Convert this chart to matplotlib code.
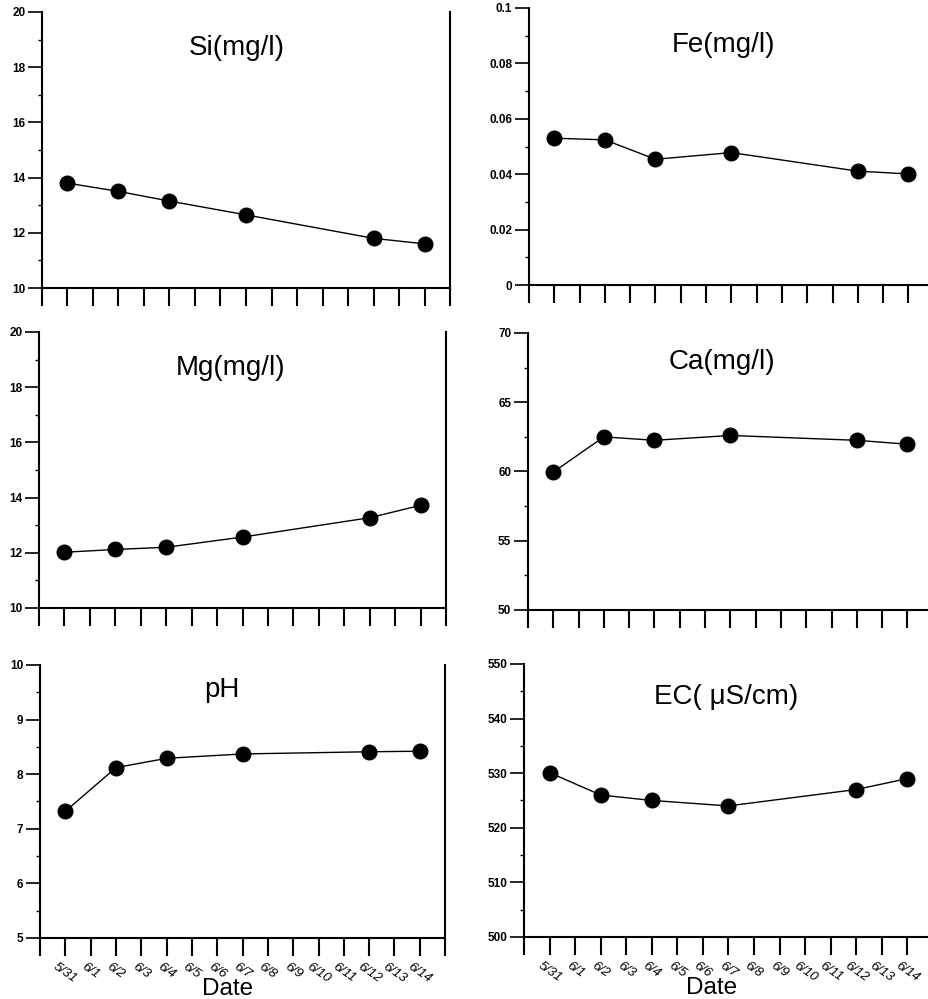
import matplotlib
matplotlib.use("Agg")
import matplotlib.pyplot as plt
from matplotlib.ticker import MultipleLocator, FixedLocator, FuncFormatter

plt.rcParams['font.family'] = ['Liberation Sans', 'DejaVu Sans']

# ---- data ----
date_labels = ["5/31", "6/1", "6/2", "6/3", "6/4", "6/5", "6/6", "6/7",
               "6/8", "6/9", "6/10", "6/11", "6/12", "6/13", "6/14"]
sample_days = ["5/31", "6/2", "6/4", "6/7", "6/12", "6/14"]

si = [13.8, 13.5, 13.15, 12.65, 11.8, 11.6]
fe = [0.053, 0.0524, 0.0454, 0.0478, 0.0411, 0.0401]
mg = [12.02, 12.12, 12.2, 12.57, 13.27, 13.72]
ca = [59.95, 62.5, 62.25, 62.6, 62.25, 61.97]
ph = [7.32, 8.12, 8.29, 8.37, 8.41, 8.42]
ec = [530.1, 526.0, 525.0, 524.0, 527.0, 529.0]

panels = [
    ("Si(mg/l)", si, (10, 20), 2, 1, [0.0452, 0.7117, 0.4392, 0.2763], False, False, (0.478, 0.87)),
    ("Fe(mg/l)", fe, (0, 0.1), 0.02, 0.01, [0.5694, 0.7147, 0.4316, 0.2773], True, False, (0.485, 0.865)),
    ("Mg(mg/l)", mg, (10, 20), 2, 1, [0.0420, 0.3914, 0.4381, 0.2763], False, False, (0.47, 0.87)),
    ("Ca(mg/l)", ca, (50, 70), 5, 2.5, [0.5683, 0.3894, 0.4316, 0.2773], True, False, (0.485, 0.895)),
    ("pH", ph, (5, 10), 1, 0.5, [0.0431, 0.0611, 0.4360, 0.2733], False, True, (0.45, 0.91)),
    ("EC( \u03bcS/cm)", ec, (500, 550), 10, 5, [0.5640, 0.0621, 0.4360, 0.2733], True, True, (0.5, 0.88)),
]

fig = plt.figure(figsize=(9.29, 9.99), dpi=100)

xpos = [date_labels.index(d) for d in sample_days]


def fe_fmt(v, p):
    if abs(v) < 1e-9:
        return "0"
    if abs(v - 0.1) < 1e-9:
        return "0.1"
    return f"{v:.2f}"


for title, vals, ylim, major, minor, rect, right_col, show_x, tpos in panels:
    ax = fig.add_axes(rect)
    ax.plot(xpos, vals, color='black', lw=1.0, marker='o', markersize=10.5,
            markerfacecolor='black', markeredgecolor='black', zorder=3,
            clip_on=False)
    ax.set_ylim(*ylim)
    if right_col:
        ax.set_xlim(-1, 14.85)
        ax.spines['right'].set_visible(False)
        ticks = list(range(-1, 15))
    else:
        ax.set_xlim(-1, 15)
        ax.spines['right'].set_linewidth(1.5)
        ticks = list(range(-1, 16))
    ax.xaxis.set_major_locator(FixedLocator(ticks))
    ax.spines['top'].set_visible(False)
    ax.spines['left'].set_linewidth(1.5)
    ax.spines['bottom'].set_linewidth(1.5)

    ax.yaxis.set_major_locator(MultipleLocator(major))
    ax.yaxis.set_minor_locator(MultipleLocator(minor))
    ax.tick_params(axis='y', which='major', direction='out', length=10, width=1.2,
                   labelsize=8.5, pad=2)
    ax.tick_params(axis='y', which='minor', direction='out', length=3, width=1.0)
    ax.tick_params(axis='x', which='major', direction='out', length=13, width=1.5,
                   labelsize=9.5, pad=3)

    if title.startswith("Fe"):
        ax.yaxis.set_major_formatter(FuncFormatter(fe_fmt))
    else:
        ax.yaxis.set_major_formatter(FuncFormatter(lambda v, p: f"{v:g}"))
    for lab in ax.get_yticklabels():
        lab.set_fontweight('bold')

    if show_x:
        labels = [date_labels[t] if 0 <= t < len(date_labels) else "" for t in ticks]
        ax.set_xticks(ticks)
        ax.set_xticklabels(labels, rotation=-35, ha='center', va='top',
                           fontstyle='italic', fontsize=9.5)
        ax.set_xlabel("Date", fontsize=17.5)
        ax.xaxis.set_label_coords(0.462, -0.148)
    else:
        ax.set_xticklabels([])

    ax.text(tpos[0], tpos[1], title, transform=ax.transAxes, ha='center',
            va='center', fontsize=20)

fig.savefig("out.png", dpi=100)
